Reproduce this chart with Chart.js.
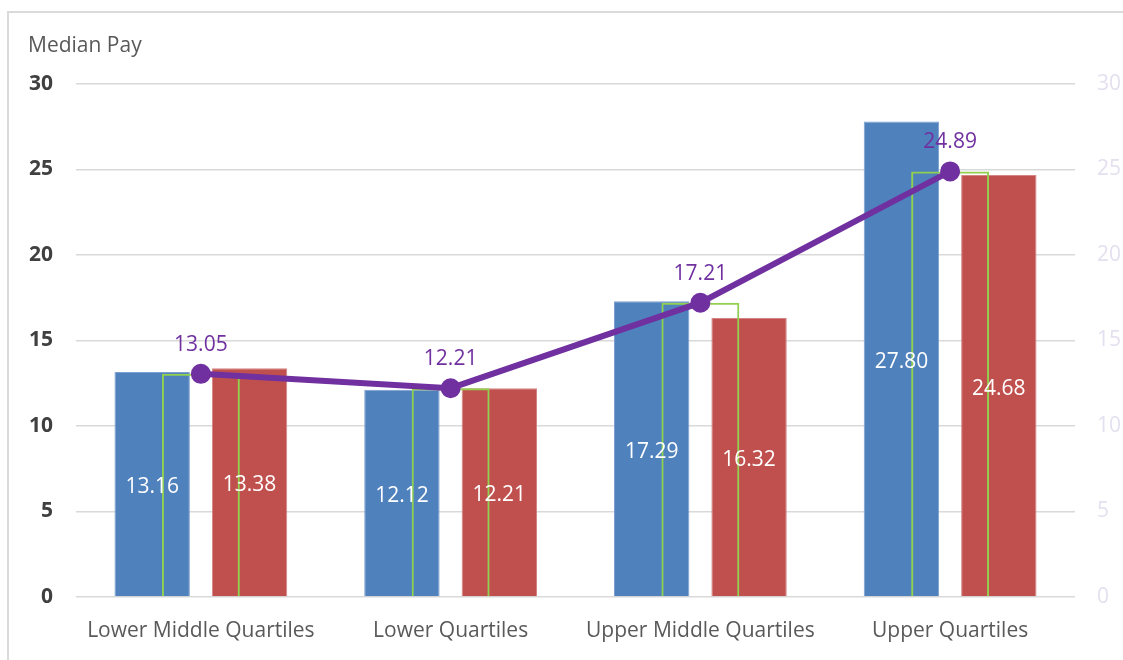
<!DOCTYPE html>
<html>
<head>
<meta charset="utf-8">
<script src="https://cdn.jsdelivr.net/npm/chart.js@4.4.1/dist/chart.umd.min.js"></script>
<style>
  body { margin: 0; background: #fff; overflow: hidden; }
  #frame { position: absolute; left: 7px; top: 11px; width: 1300px; height: 800px; border: 2px solid #dadada; }
  #grafico { position: absolute; left: 0; top: 0; }
</style>
</head>
<body>
<div id="frame"></div>
<canvas id="grafico" width="1123" height="660"></canvas>
<script>
// datos
const quartiles = ['Lower Middle Quartiles', 'Lower Quartiles', 'Upper Middle Quartiles', 'Upper Quartiles'];
const bluePay = [13.16, 12.12, 17.29, 27.80];
const redPay = [13.38, 12.21, 16.32, 24.68];
const greenPay = [13.05, 12.21, 17.21, 24.89];
const linePay = [13.05, 12.21, 17.21, 24.89];
const yTicks = [0, 5, 10, 15, 20, 25, 30];

const FONT = "'Open Sans', sans-serif";

// etiquetas de valores (no hay datalabels en local)
const valueLabels = {
  id: 'valueLabels',
  afterDatasetsDraw(chart) {
    const ctx = chart.ctx;
    ctx.save();
    ctx.font = '21px ' + FONT;
    ctx.textAlign = 'center';
    ctx.textBaseline = 'middle';
    [0, 1].forEach(i => {
      const meta = chart.getDatasetMeta(i);
      meta.data.forEach((bar, j) => {
        ctx.fillStyle = '#ffffff';
        ctx.fillText(chart.data.datasets[i].data[j].toFixed(2), bar.x, (bar.y + bar.base) / 2 + 3);
      });
    });
    const lineMeta = chart.getDatasetMeta(3);
    lineMeta.data.forEach((pt, j) => {
      ctx.fillStyle = '#7030a0';
      ctx.fillText(linePay[j].toFixed(2), pt.x, pt.y - 29);
    });
    ctx.fillStyle = '#595959';
    ctx.textAlign = 'left';
    ctx.fillText('Median Pay', 28, 46);
    ctx.restore();
  }
};

const ctx = document.getElementById('grafico').getContext('2d');
const chart = new Chart(ctx, {
  type: 'bar',
  data: {
    labels: quartiles,
    datasets: [
      { label: 'Blue', data: bluePay, backgroundColor: '#4f81bd', borderColor: '#7b9fcf', borderWidth: 1,
        categoryPercentage: 0.78, barPercentage: 0.774, order: 2 },
      { label: 'Red', data: redPay, backgroundColor: '#c0504d', borderColor: '#d48583', borderWidth: 1,
        categoryPercentage: 0.78, barPercentage: 0.774, order: 2 },
      { label: 'Green', data: greenPay, grouped: false, backgroundColor: 'rgba(0,0,0,0)', borderColor: '#92d050',
        borderWidth: 2, borderSkipped: 'bottom', categoryPercentage: 1, barPercentage: 0.312, order: 1 },
      { type: 'line', label: 'Median', data: linePay, borderColor: '#7030a0', backgroundColor: '#7030a0',
        borderWidth: 6, pointRadius: 7, pointHoverRadius: 7, tension: 0, order: 0 }
    ]
  },
  options: {
    responsive: false,
    animation: false,
    layout: { padding: { top: 84, left: 0, right: 0, bottom: 0 } },
    plugins: { legend: { display: false }, tooltip: { enabled: false } },
    scales: {
      x: {
        grid: { display: false },
        border: { display: false },
        ticks: { color: '#595959', font: { family: FONT, size: 21 }, padding: 13 },
        afterFit: s => { s.height = 63; }
      },
      y: {
        min: 0, max: 30,
        afterBuildTicks: s => { s.ticks = yTicks.map(v => ({ value: v })); },
        grid: { color: '#d9d9d9', lineWidth: 1.5, drawTicks: false },
        border: { display: false },
        ticks: { color: '#404040', font: { family: FONT, size: 21, weight: 'bold' }, padding: 23 },
        afterFit: s => { s.width = 76; }
      },
      y2: {
        position: 'right',
        min: 0, max: 30,
        afterBuildTicks: s => { s.ticks = yTicks.map(v => ({ value: v })); },
        grid: { display: false, drawTicks: false },
        border: { display: false },
        ticks: { color: '#e4e0ef', font: { family: FONT, size: 21 }, padding: 22 },
        afterFit: s => { s.width = 48; }
      }
    }
  },
  plugins: [valueLabels]
});
</script>
</body>
</html>
